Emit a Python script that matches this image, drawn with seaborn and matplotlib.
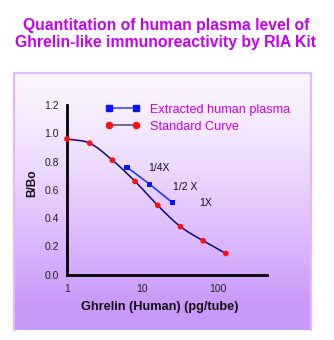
import numpy as np
import pandas as pd
import matplotlib
matplotlib.use("Agg")
import matplotlib.pyplot as plt
import seaborn as sns
from matplotlib.lines import Line2D

# ---- data ----
std_x = [1, 2, 4, 8, 16, 32, 64, 128]
std_y = [0.96, 0.93, 0.81, 0.66, 0.49, 0.34, 0.24, 0.15]
ext_x = [6.25, 12.5, 25]
ext_y = [0.76, 0.64, 0.51]
ext_labels = ["1/4X", "1/2 X", "1X"]
x_ticks = [1, 10, 100]
y_ticks = [0.0, 0.2, 0.4, 0.6, 0.8, 1.0, 1.2]
title = "Quantitation of human plasma level of\nGhrelin-like immunoreactivity by RIA Kit"
series_names = ["Extracted human plasma", "Standard Curve"]

sns.set_theme(style="white")
plt.rcParams['font.family'] = ['Liberation Sans', 'DejaVu Sans']

W, H = 334, 340
fig = plt.figure(figsize=(W / 100, H / 100), dpi=100)
fig.patch.set_facecolor("white")

# ---- gradient panel ----
px0, py0, px1, py1 = 14, 73, 311, 330
bg = fig.add_axes([px0 / W, 1 - py1 / H, (px1 - px0) / W, (py1 - py0) / H])
t = np.linspace(0, 1, 256)[:, None]
tt = np.clip(t / 0.9, 0, 1) ** 1.3
top = np.array([252, 246, 255]) / 255
bot = np.array([201, 153, 250]) / 255
grad = top[None, None, :] * (1 - tt[..., None]) + bot[None, None, :] * tt[..., None]
grad = np.repeat(grad, 4, axis=1)
bg.imshow(grad, aspect="auto", extent=[0, 1, 0, 1], origin="upper")
bg.set_xlim(0, 1); bg.set_ylim(0, 1)
bg.axis("off")
bg.plot([0, 0, 1, 1], [0, 1, 1, 0], color="#e4b8ff", lw=1.6, transform=bg.transAxes, clip_on=False)

# ---- main axes ----
ax_l, ax_r, ax_b, ax_t = 67, 267, 274.7, 105
ax = fig.add_axes([ax_l / W, 1 - ax_b / H, (ax_r - ax_l) / W, (ax_b - ax_t) / H])
ax.set_facecolor("none")

# smooth line for standard curve (Catmull-Rom in log-x space)
lx = np.log10(std_x); ly = np.array(std_y)
P = np.column_stack([lx, ly])
P = np.vstack([2 * P[0] - P[1], P, 2 * P[-1] - P[-2]])
cx, cy = [], []
for i in range(1, len(P) - 2):
    p0, p1, p2, p3 = P[i - 1], P[i], P[i + 1], P[i + 2]
    for s in np.linspace(0, 1, 20, endpoint=False):
        q = 0.5 * ((2 * p1) + (-p0 + p2) * s + (2 * p0 - 5 * p1 + 4 * p2 - p3) * s ** 2
                   + (-p0 + 3 * p1 - 3 * p2 + p3) * s ** 3)
        cx.append(q[0]); cy.append(q[1])
cx.append(lx[-1]); cy.append(ly[-1])
ax.plot(10 ** np.array(cx), cy, color="#0a0a78", lw=1.1, zorder=2)

df_std = pd.DataFrame({"x": std_x, "y": std_y})
df_ext = pd.DataFrame({"x": ext_x, "y": ext_y})
sns.lineplot(data=df_ext, x="x", y="y", ax=ax, color="#1c3cff", lw=1.2, zorder=2)
sns.scatterplot(data=df_std, x="x", y="y", ax=ax, color="#ff1010", marker="o", s=17,
                edgecolor="none", zorder=3, clip_on=False)
sns.scatterplot(data=df_ext, x="x", y="y", ax=ax, color="#0a14ff", marker="s", s=15,
                edgecolor="none", zorder=3)

offsets_px = [(21.7, -1), (23.7, -2.5), (26.4, 0)]
for xv, yv, lab, (dx, dy) in zip(ext_x, ext_y, ext_labels, offsets_px):
    ax.annotate(lab, (xv, yv), xytext=(dx * 0.72, dy * 0.72), textcoords="offset points",
                fontsize=7.5, color="#111111", va="center", ha="left")

ax.set_xscale("log")
ax.set_xlim(1, 450)
ax.set_ylim(0, 1.2)
ax.set_xticks(x_ticks)
ax.set_xticklabels([str(v) for v in x_ticks])
ax.minorticks_off()
ax.set_yticks(y_ticks)
ax.set_yticklabels([f"{v:.1f}" for v in y_ticks])
ax.tick_params(axis="both", direction="in", length=2.2, width=1.4, labelsize=7.5,
               colors="black", labelcolor="#222222", pad=6)
ax.tick_params(axis="x", pad=7)
for s in ["top", "right"]:
    ax.spines[s].set_visible(False)
for s in ["left", "bottom"]:
    ax.spines[s].set_color("black")
    ax.spines[s].set_linewidth(2)
ax.set_xlabel("Ghrelin (Human) (pg/tube)", fontsize=9.2, fontweight="bold", color="#111111")
ax.xaxis.set_label_coords(159.5 / W, 1 - 306.7 / H, transform=fig.transFigure)
ax.set_ylabel("B/Bo", fontsize=8.6, fontweight="bold", color="#111111")
ax.yaxis.set_label_coords(32 / W, 1 - 183.5 / H, transform=fig.transFigure)
ax.xaxis.label.set_va("center")
ax.yaxis.label.set_va("center")

# legend
handles = [Line2D([0], [0], color="#3a4cff", lw=1.2, marker="s", markersize=4.2,
                  markerfacecolor="#0a14ff", markeredgecolor="#0a14ff"),
           Line2D([0], [0], color="#555566", lw=1.2, marker="o", markersize=4.4,
                  markerfacecolor="#ff1010", markeredgecolor="#ff1010")]
leg = fig.legend(handles, series_names, numpoints=2, frameon=False,
                 loc="upper left", bbox_to_anchor=(105.5 / W, 1 - 103.5 / H),
                 fontsize=9.1, labelcolor="#cc00ee", handlelength=2.75, handletextpad=0.8,
                 labelspacing=0.42, borderpad=0, borderaxespad=0)

fig.text(166 / W, 1 - 34 / H, title, ha="center", va="center", fontsize=11.3,
         fontweight="bold", color="#c800f0", linespacing=1.1)

fig.savefig("out.png", dpi=100)
